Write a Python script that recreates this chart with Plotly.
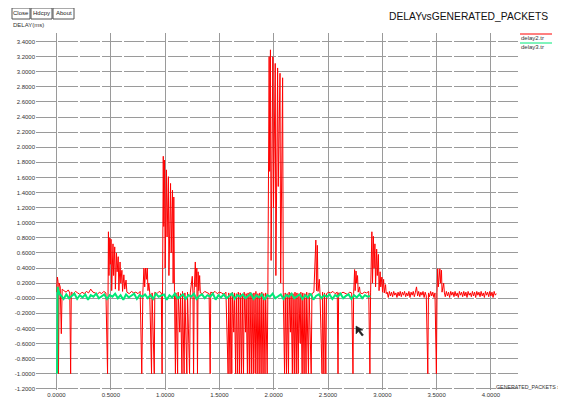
import plotly.graph_objects as go

# ---------------- data ----------------
# delay2.tr (red)
red_x = [
    0.000, 0.008, 0.014, 0.018, 0.024, 0.034, 0.044, 0.052, 0.068, 0.088, 0.108, 0.122, 0.130, 0.136,
    0.155, 0.175, 0.195, 0.215, 0.235, 0.255, 0.275, 0.295, 0.315, 0.335, 0.355, 0.375, 0.395, 0.415, 0.435, 0.455,
    0.470, 0.478, 0.483, 0.490, 0.496, 0.502, 0.508, 0.520, 0.526, 0.536, 0.542, 0.552, 0.558, 0.568, 0.574, 0.585,
    0.592, 0.602, 0.608, 0.620, 0.628, 0.640, 0.648,
    0.670, 0.690, 0.710, 0.730, 0.750, 0.770, 0.785, 0.795, 0.805, 0.812, 0.820, 0.828, 0.836, 0.842, 0.850, 0.858,
    0.875, 0.880, 0.900, 0.905, 0.925, 0.945, 0.965, 0.972, 0.978,
    0.983, 0.988, 0.995, 1.000, 1.012, 1.018, 1.030, 1.035, 1.050, 1.056, 1.068, 1.074, 1.080, 1.086,
    1.095, 1.100, 1.115, 1.120, 1.135, 1.142, 1.155, 1.160, 1.175, 1.182, 1.200, 1.206, 1.225, 1.232, 1.250, 1.256,
    1.262, 1.268, 1.278, 1.284, 1.292, 1.298, 1.304, 1.310, 1.318, 1.324,
    1.345, 1.365, 1.385, 1.405, 1.415, 1.420, 1.440, 1.460, 1.480, 1.500, 1.520, 1.540, 1.560,
    1.580, 1.586, 1.598, 1.604, 1.614, 1.620, 1.632, 1.638, 1.650, 1.656, 1.668, 1.674, 1.686, 1.692, 1.704, 1.710,
    1.722, 1.728, 1.740, 1.746, 1.758, 1.764, 1.776, 1.782, 1.794, 1.800, 1.812, 1.818, 1.830, 1.836, 1.848, 1.854,
    1.866, 1.872, 1.884, 1.890, 1.902, 1.908, 1.920, 1.926, 1.940, 1.946,
    1.958, 1.963, 1.970, 1.976, 1.992, 1.998, 2.014, 2.020, 2.036, 2.042, 2.058, 2.064, 2.082, 2.088,
    2.100, 2.106, 2.118, 2.124, 2.136, 2.142, 2.154, 2.160, 2.172, 2.178, 2.190, 2.196, 2.208, 2.214, 2.226, 2.232,
    2.244, 2.250, 2.262, 2.268, 2.280, 2.286, 2.298, 2.304, 2.320, 2.326, 2.345, 2.352,
    2.370, 2.388, 2.394, 2.402, 2.408, 2.420, 2.426, 2.445, 2.450, 2.462, 2.468, 2.480, 2.486, 2.505, 2.525, 2.545,
    2.565, 2.585, 2.592, 2.598, 2.618, 2.638, 2.658, 2.678, 2.698, 2.718, 2.730, 2.736,
    2.745, 2.750, 2.758, 2.764, 2.772, 2.778, 2.790, 2.796, 2.815, 2.835, 2.855, 2.875, 2.886, 2.892, 2.904, 2.910,
    2.918, 2.924, 2.932, 2.938, 2.948, 2.954, 2.964, 2.970, 2.980, 2.986, 2.996, 3.002, 3.012, 3.018, 3.030, 3.036,
    3.045, 3.055, 3.065, 3.075, 3.085, 3.095, 3.105, 3.115, 3.125, 3.135, 3.145, 3.155, 3.165, 3.175, 3.185, 3.195,
    3.205, 3.215, 3.225, 3.235, 3.245, 3.255, 3.265, 3.275, 3.285, 3.295, 3.305, 3.315, 3.325, 3.335, 3.345, 3.355,
    3.365, 3.375, 3.385, 3.395, 3.405, 3.419, 3.425, 3.435, 3.445, 3.455, 3.465, 3.475, 3.485,
    3.498, 3.504, 3.510, 3.516, 3.530, 3.536, 3.545, 3.550, 3.565, 3.572,
    3.580, 3.590, 3.600, 3.610, 3.620, 3.630, 3.640, 3.650, 3.660, 3.670, 3.680, 3.690, 3.700, 3.710, 3.720, 3.730,
    3.740, 3.750, 3.760, 3.770, 3.780, 3.790, 3.800, 3.810, 3.820, 3.830, 3.840, 3.850, 3.860, 3.870, 3.880, 3.890,
    3.900, 3.910, 3.920, 3.930, 3.940, 3.950, 3.960, 3.970, 3.980, 3.990, 4.000, 4.010, 4.020, 4.030, 4.040, 4.050,
]
red_y = [
    0.08, 0.28, 0.22, -1.00, 0.20, 0.15, -0.47, 0.12, 0.10, 0.08, 0.11, 0.07, -1.00, 0.08,
    0.06, 0.09, 0.07, 0.05, 0.08, 0.06, 0.09, 0.07, 0.12, 0.08, 0.07, 0.05, 0.08, 0.06, 0.09, 0.07,
    -1.00, 0.88, 0.30, 0.80, 0.45, 0.78, 0.10, 0.72, 0.30, 0.68, 0.12, 0.60, 0.35, 0.55, 0.10, 0.48,
    0.20, 0.37, 0.09, 0.31, 0.12, 0.24, 0.08,
    0.06, 0.09, 0.07, 0.08, 0.06, 0.09, -1.00, 0.08, 0.40, 0.15, 0.40, 0.25, 0.40, 0.10, 0.20, 0.08,
    -1.00, 0.07, -1.00, 0.08, 0.06, 0.09, 0.07, -1.00, 0.08,
    1.88, 0.95, 1.83, 0.40, 1.70, 0.81, 1.61, 0.30, 1.52, 0.60, 1.43, 0.20, 1.34, 0.09,
    -1.00, 0.07, -1.00, 0.08, -0.45, 0.06, -1.00, 0.09, -1.00, 0.07, -1.00, 0.08, -1.00, 0.07, 0.29, 0.08,
    -1.00, 0.10, 0.48, 0.15, 0.40, -1.00, 0.35, 0.10, 0.30, 0.07,
    0.06, 0.09, 0.07, 0.06, -1.00, 0.08, 0.07, 0.09, 0.06, 0.08, 0.07, 0.05, 0.08,
    -1.00, 0.07, -1.00, 0.06, -1.00, 0.08, -0.45, 0.07, -1.00, 0.06, -1.00, 0.08, -1.00, 0.07, -1.00, 0.05,
    -1.00, 0.08, -0.45, 0.06, -1.00, 0.07, -1.00, 0.08, -1.00, 0.06, -1.00, 0.07, -1.00, 0.09, -1.00, 0.06,
    -1.00, 0.07, -1.00, 0.08, -1.00, 0.06, -1.00, 0.07, -1.00, 0.08,
    3.20, 1.68, 3.29, 0.50, 3.20, 1.20, 3.11, 0.30, 3.05, 1.48, 2.98, 0.20, 2.92, 0.08,
    -1.00, 0.07, -1.00, 0.06, -1.00, 0.08, -0.45, 0.07, -1.00, 0.06, -1.00, 0.08, -1.00, 0.07, -1.00, 0.06,
    -0.60, 0.08, -1.00, 0.07, -1.00, 0.06, -1.00, 0.08, -1.00, 0.07, -1.00, 0.06,
    0.08, 0.77, 0.10, 0.70, 0.09, 0.25, 0.07, -1.00, 0.08, -1.00, 0.07, -1.00, 0.06, 0.08, 0.07, 0.09,
    0.06, 0.08, -1.00, 0.07, 0.06, 0.08, 0.07, 0.05, 0.08, 0.07, -1.00, 0.06,
    0.38, 0.10, 0.36, 0.20, 0.30, 0.08, 0.15, 0.07, 0.06, 0.08, 0.07, 0.09, -1.00, 0.07, 0.88, 0.20,
    0.82, 0.40, 0.72, 0.15, 0.65, 0.30, 0.58, 0.10, 0.35, 0.15, 0.28, 0.08, 0.25, 0.07, 0.18, 0.06,
    0.08, 0.01, 0.09, 0.03, 0.08, 0.02, 0.09, 0.04, 0.07, 0.01, 0.08, 0.03, 0.09, 0.02, 0.08, 0.04,
    0.09, 0.02, 0.07, 0.03, 0.09, 0.01, 0.08, 0.04, 0.09, 0.02, 0.08, 0.15, 0.03, 0.09, 0.02, 0.08,
    0.04, 0.09, 0.01, 0.08, 0.03, -1.00, 0.07, 0.02, 0.09, 0.03, 0.08, 0.01, 0.07,
    -1.00, 0.08, 0.39, 0.15, 0.39, 0.20, 0.37, 0.08, 0.20, 0.07,
    0.02, 0.09, 0.03, 0.08, 0.01, 0.09, 0.04, 0.08, 0.02, 0.09, 0.03, 0.07, 0.01, 0.09, 0.04, 0.08,
    0.02, 0.09, 0.03, 0.08, 0.01, 0.09, 0.04, 0.07, 0.02, 0.09, 0.03, 0.08, 0.01, 0.09, 0.04, 0.08,
    0.02, 0.09, 0.03, 0.07, 0.01, 0.09, 0.04, 0.08, 0.02, 0.09, 0.03, 0.08, 0.01, 0.09, 0.04, 0.06,
]

# delay3.tr (green)
green_x = [
    0.005, 0.010, 0.020, 0.030,
    0.040, 0.065, 0.090, 0.115, 0.140, 0.165, 0.190, 0.215, 0.240, 0.265,
    0.290, 0.315, 0.340, 0.365, 0.390, 0.415, 0.440, 0.465, 0.490, 0.515,
    0.540, 0.565, 0.590, 0.615, 0.640, 0.665, 0.690, 0.715, 0.740, 0.765,
    0.790, 0.815, 0.840, 0.865, 0.890, 0.915, 0.940, 0.965, 0.990, 1.015,
    1.040, 1.065, 1.090, 1.115, 1.140, 1.165, 1.190, 1.215, 1.240, 1.265,
    1.290, 1.315, 1.340, 1.365, 1.390, 1.415, 1.440, 1.465, 1.490, 1.515,
    1.540, 1.565, 1.590, 1.615, 1.640, 1.665, 1.690, 1.715, 1.740, 1.765,
    1.790, 1.815, 1.840, 1.865, 1.890, 1.915, 1.940, 1.965, 1.990, 2.015,
    2.040, 2.065, 2.090, 2.115, 2.140, 2.165, 2.190, 2.215, 2.240, 2.265,
    2.290, 2.315, 2.340, 2.365, 2.390, 2.415, 2.440, 2.465, 2.490, 2.515,
    2.540, 2.565, 2.590, 2.615, 2.640, 2.665, 2.690, 2.715, 2.740, 2.765,
    2.790, 2.815, 2.840, 2.865, 2.890,
]
green_y = [
    -1.00, 0.15, 0.09, 0.05,
    0.04, -0.01, 0.05, 0.00, 0.03, 0.06, -0.01, 0.04, 0.01, 0.05,
    -0.02, 0.04, 0.02, 0.06, 0.00, 0.03, 0.05, -0.01, 0.04, 0.02,
    0.06, 0.00, 0.04, -0.02, 0.05, 0.01, 0.03, 0.06, -0.01, 0.04,
    0.02, 0.05, 0.00, 0.04, -0.01, 0.06, 0.02, 0.03, 0.05, -0.02,
    0.04, 0.01, 0.06, 0.00, 0.03, 0.05, -0.01, 0.04, 0.02, 0.06,
    -0.01, 0.03, 0.05, 0.00, 0.04, 0.02, 0.06, -0.02, 0.04, 0.01,
    0.05, 0.00, 0.03, 0.06, -0.01, 0.04, 0.02, 0.05, 0.00, 0.03,
    0.06, -0.01, 0.04, 0.01, 0.05, -0.02, 0.04, 0.02, 0.06, 0.00,
    0.03, 0.05, -0.01, 0.04, 0.02, 0.06, 0.00, 0.03, 0.05, -0.01,
    0.04, 0.01, 0.06, -0.02, 0.03, 0.05, 0.00, 0.04, 0.02, 0.05,
    -0.01, 0.04, 0.02, 0.06, 0.00, 0.03, 0.05, -0.01, 0.04, 0.01,
    0.05, 0.00, 0.04, 0.02, 0.03,
]

x_tick_vals = [0.0, 0.5, 1.0, 1.5, 2.0, 2.5, 3.0, 3.5, 4.0]
x_tick_text = ["0.0000", "0.5000", "1.0000", "1.5000", "2.0000", "2.5000", "3.0000", "3.5000", "4.0000"]
y_tick_vals = [3.4, 3.2, 3.0, 2.8, 2.6, 2.4, 2.2, 2.0, 1.8, 1.6, 1.4, 1.2, 1.0,
               0.8, 0.6, 0.4, 0.2, 0.0, -0.2, -0.4, -0.6, -0.8, -1.0, -1.2]
y_tick_text = ["3.4000", "3.2000", "3.0000", "2.8000", "2.6000", "2.4000", "2.2000", "2.0000",
               "1.8000", "1.6000", "1.4000", "1.2000", "1.0000", "0.8000", "0.6000", "0.4000",
               "0.2000", "-0.0000", "-0.2000", "-0.4000", "-0.6000", "-0.8000", "-1.0000", "-1.2000"]

series_names = ["delay2.tr", "delay3.tr"]
series_colors = ["#ff0000", "#00e878"]
title_text = "DELAYvsGENERATED_PACKETS"
y_label = "DELAY(ms)"
x_label = "GENERATED_PACKETS x"
buttons = ["Close", "Hdcpy", "About"]

assert len(red_x) == len(red_y)
assert len(green_x) == len(green_y)

# ---------------- layout helpers ----------------
# The page body has an 8px margin, so the figure starts at (8, 8) in the window.
OFF = 8
W, H = 566 - OFF, 400 - OFF
# plot area in window pixels
L, R, T, B = 36, 520, 33, 390


def px(xp):
    return (xp - L) / (R - L)


def py(yp):
    return (B - yp) / (B - T)


FONT = "Liberation Sans, Arial, sans-serif"

fig = go.Figure()
fig.add_trace(go.Scatter(x=red_x, y=red_y, mode="lines", name=series_names[0],
                         line=dict(color=series_colors[0], width=1), showlegend=False))
fig.add_trace(go.Scatter(x=green_x, y=green_y, mode="lines", name=series_names[1],
                         line=dict(color=series_colors[1], width=2), showlegend=False))

shapes = []
annotations = []

# title
annotations.append(dict(x=px(550), y=py(17), xref="paper", yref="paper", text=title_text,
                        showarrow=False, xanchor="right", yanchor="middle",
                        font=dict(family=FONT, size=10.3, color="#111")))
# y label
annotations.append(dict(x=px(11), y=py(25), xref="paper", yref="paper", text=y_label,
                        showarrow=False, xanchor="left", yanchor="middle",
                        font=dict(family=FONT, size=6, color="#333")))
# x label
annotations.append(dict(x=px(494), y=py(387), xref="paper", yref="paper", text=x_label,
                        showarrow=False, xanchor="left", yanchor="middle",
                        font=dict(family=FONT, size=5.3, color="#333")))

# buttons
btn_edges = [(12, 30), (31, 52), (53, 74)]
for (x0, x1), label in zip(btn_edges, buttons):
    shapes.append(dict(type="rect", xref="paper", yref="paper",
                       x0=px(x0), x1=px(x1), y0=py(19), y1=py(8),
                       line=dict(color="#555", width=1), fillcolor="white"))
    annotations.append(dict(x=px((x0 + x1) / 2), y=py(13.5), xref="paper", yref="paper", text=label,
                            showarrow=False, xanchor="center", yanchor="middle",
                            font=dict(family=FONT, size=6, color="#222")))

# legend (xgraph style: coloured line above the name)
leg_rows = [(34, 38), (43, 47)]
for (ly, ty), name, col in zip(leg_rows, series_names, series_colors):
    shapes.append(dict(type="line", xref="paper", yref="paper",
                       x0=px(520), x1=px(552), y0=py(ly), y1=py(ly),
                       line=dict(color=col, width=1)))
    annotations.append(dict(x=px(519), y=py(ty), xref="paper", yref="paper", text=name,
                            showarrow=False, xanchor="left", yanchor="middle",
                            font=dict(family=FONT, size=6, color="#333")))

# mouse cursor
cur = [(356, 326), (356, 334), (358.5, 331.5), (362, 336), (363.5, 335), (360, 330.5), (363, 330)]
path = "M " + " L ".join(f"{px(a):.5f},{py(b):.5f}" for a, b in cur) + " Z"
shapes.append(dict(type="path", xref="paper", yref="paper", path=path,
                   fillcolor="#222", line=dict(color="#222", width=0.5)))

fig.update_layout(
    width=W, height=H, autosize=False,
    margin=dict(l=L - OFF, r=W - (R - OFF), t=T - OFF, b=H - (B - OFF), pad=0),
    paper_bgcolor="white", plot_bgcolor="white",
    showlegend=False,
    shapes=shapes, annotations=annotations,
    xaxis=dict(range=[-0.189, 4.268], tickmode="array", tickvals=x_tick_vals, ticktext=x_tick_text,
               showgrid=True, gridcolor="#9a9a9a", gridwidth=1, zeroline=False, showline=False,
               ticks="", ticklabelstandoff=0,
               tickfont=dict(family=FONT, size=6, color="#333"), automargin=False,
               fixedrange=True),
    yaxis=dict(range=[-1.216, 3.513], tickmode="array", tickvals=y_tick_vals, ticktext=y_tick_text,
               showgrid=True, gridcolor="#9a9a9a", gridwidth=1, griddash="20px,2px",
               zeroline=False, showline=False, ticks="",
               tickfont=dict(family=FONT, size=6, color="#333"), automargin=False,
               fixedrange=True),
)

fig.write_html("out.html", config={"displayModeBar": False})
